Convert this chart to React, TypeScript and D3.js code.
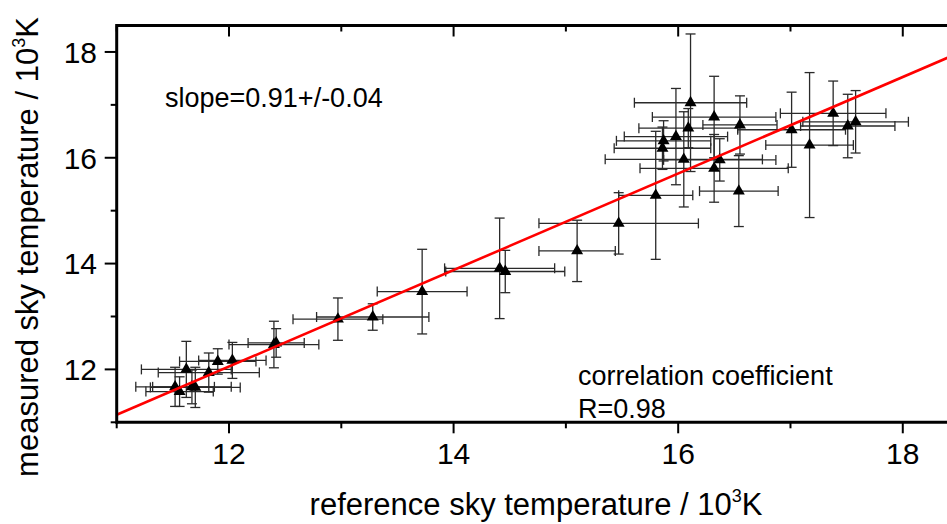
import React from 'react';
import * as d3 from 'd3';

// reference temperature (10^3 K) and its error
const refTemp = [11.52, 11.56, 11.62, 11.67, 11.70, 11.82, 11.90, 12.03, 12.40, 12.42,
  12.97, 13.28, 13.72, 14.41, 14.46, 15.10, 15.47, 15.80,
  15.87, 15.86, 15.98, 16.11, 16.09, 16.05, 16.32, 16.37, 16.32, 16.55, 16.54,
  17.01, 17.17, 17.38, 17.51, 17.58];
const refErr = [0.35, 0.30, 0.40, 0.35, 0.40, 0.45, 0.34, 0.30, 0.40, 0.25,
  0.40, 0.50, 0.40, 0.49, 0.53, 0.34, 0.71, 0.33,
  0.42, 0.43, 0.46, 0.50, 0.44, 0.70, 0.55, 0.50, 0.66, 0.33, 0.35,
  0.48, 0.39, 0.47, 0.42, 0.47];
// measured temperature (10^3 K) and its error
const measTemp = [11.67, 11.58, 12.00, 11.67, 11.66, 11.94, 12.15, 12.17, 12.47, 12.50,
  12.95, 12.99, 13.47, 13.91, 13.85, 14.24, 14.76, 15.29,
  16.32, 16.18, 16.40, 17.04, 16.56, 15.97, 16.77, 15.96, 15.80, 16.62, 15.37,
  16.53, 16.24, 16.84, 16.60, 16.68];
const measErr = [0.37, 0.28, 0.53, 0.32, 0.38, 0.37, 0.24, 0.34, 0.44, 0.27,
  0.40, 0.25, 0.80, 0.95, 0.40, 0.58, 0.58, 1.21,
  0.38, 0.40, 0.91, 1.30, 0.37, 0.90, 0.77, 0.40, 0.64, 0.55, 0.67,
  0.71, 1.37, 0.61, 0.60, 0.59];

const fitSlope = 0.912;
const fitIntercept = 1.11;

const majorTicks = [12, 14, 16, 18];
const minorTicksX = [11, 13, 15, 17];
const minorTicksY = [11, 13, 15, 17];

const W = 947;
const H = 524;
const font = "'Liberation Sans', Arial, sans-serif";

export default function App() {
  const x = d3.scaleLinear().domain([11, 18.4]).range([116.7, 947.7]);
  const y = d3.scaleLinear().domain([11, 18.5]).range([422.3, 25.5]);

  const points = refTemp.map((v, i) => ({
    x: v, xe: refErr[i], y: measTemp[i], ye: measErr[i],
  }));

  const tri = d3.symbol(d3.symbolTriangle, 62)() as string;
  const fitLine = d3.line<number>()
    .x(d => x(d))
    .y(d => y(fitSlope * d + fitIntercept));

  const [x0, x1] = x.range();
  const [y0, y1] = y.range();
  const cap = 5;

  return (
    <svg width={W} height={H} style={{ position: 'absolute', left: 0, top: 0, background: '#fff' }}
      fontFamily={font}>
      <defs>
        <clipPath id="plot">
          <rect x={x0} y={y1} width={x1 - x0} height={y0 - y1} />
        </clipPath>
      </defs>

      {/* error bars */}
      <g stroke="#2a2a2a" strokeWidth={1.3} fill="none">
        {points.map((p, i) => {
          const px = x(p.x), py = y(p.y);
          const xl = x(p.x - p.xe), xr = x(p.x + p.xe);
          const yt = y(p.y + p.ye), yb = y(p.y - p.ye);
          return (
            <g key={i}>
              <line x1={xl} x2={xr} y1={py} y2={py} />
              <line x1={xl} x2={xl} y1={py - cap} y2={py + cap} />
              <line x1={xr} x2={xr} y1={py - cap} y2={py + cap} />
              <line x1={px} x2={px} y1={yt} y2={yb} />
              <line x1={px - cap} x2={px + cap} y1={yt} y2={yt} />
              <line x1={px - cap} x2={px + cap} y1={yb} y2={yb} />
            </g>
          );
        })}
      </g>

      {/* markers */}
      <g fill="#000">
        {points.map((p, i) => (
          <path key={i} d={tri} transform={`translate(${x(p.x)},${y(p.y)})`} />
        ))}
      </g>

      {/* linear fit */}
      <path d={fitLine([11, 18.4]) as string} stroke="#ff0000" strokeWidth={2.6} fill="none"
        clipPath="url(#plot)" />

      {/* frame */}
      <g stroke="#000" strokeWidth={3} fill="none">
        <line x1={x0} x2={x0} y1={y1 - 1.5} y2={y0 + 1.5} />
        <line x1={x0} x2={W + 5} y1={y0} y2={y0} />
        <line x1={x0} x2={W + 5} y1={y1} y2={y1} />
      </g>

      {/* ticks */}
      <g stroke="#000" strokeWidth={2}>
        {majorTicks.map(t => (
          <g key={'mx' + t}>
            <line x1={x(t)} x2={x(t)} y1={y0} y2={y0 + 11} />
            <line x1={x(t)} x2={x(t)} y1={y1} y2={y1 + 11} />
            <line x1={x0} x2={x0 - 12} y1={y(t)} y2={y(t)} />
          </g>
        ))}
        {minorTicksX.map(t => (
          <g key={'nx' + t}>
            <line x1={x(t)} x2={x(t)} y1={y0} y2={y0 + 6} />
            <line x1={x(t)} x2={x(t)} y1={y1} y2={y1 + 6} />
          </g>
        ))}
        {minorTicksY.map(t => (
          <line key={'ny' + t} x1={x0} x2={x0 - 6} y1={y(t)} y2={y(t)} />
        ))}
      </g>

      {/* tick labels */}
      <g fontSize={30} fill="#000">
        {majorTicks.map(t => (
          <text key={'lx' + t} x={x(t)} y={y0 + 42} textAnchor="middle">{t}</text>
        ))}
        {majorTicks.map(t => (
          <text key={'ly' + t} x={97} y={y(t) + 10.8} textAnchor="end">{t}</text>
        ))}
      </g>

      {/* axis titles */}
      <text x={536} y={515} fontSize={31} textAnchor="middle" fill="#000">
        reference sky temperature / 10<tspan fontSize={18} dy={-13}>3</tspan><tspan dy={13}>K</tspan>
      </text>
      <text transform="translate(38,247) rotate(-90)" fontSize={31} textAnchor="middle" fill="#000">
        measured sky temperature / 10<tspan fontSize={18} dy={-13}>3</tspan><tspan dy={13}>K</tspan>
      </text>

      {/* annotations */}
      <g fontSize={27} fill="#000">
        <text x={165} y={107}>slope=0.91+/-0.04</text>
        <text x={578} y={385}>correlation coefficient</text>
        <text x={578} y={418}>R=0.98</text>
      </g>
    </svg>
  );
}
